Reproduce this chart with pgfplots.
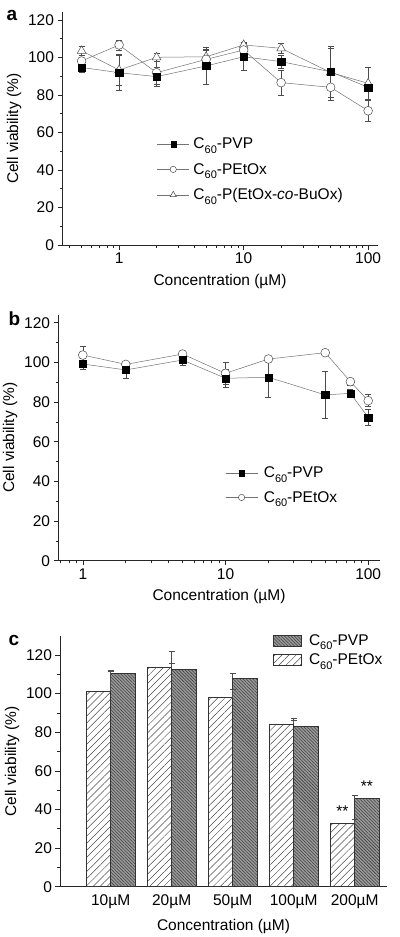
\documentclass[border=0pt]{standalone}
\usepackage{fontspec}
\setmainfont{Liberation Sans}
\usepackage{pgfplots}
\usepackage{pgfplotstable}
\pgfplotsset{compat=1.18}
\usetikzlibrary{patterns.meta}
\newcommand\fs{\fontsize{15.5bp}{18bp}\selectfont}
\newcommand\sub[1]{\raisebox{-0.28em}{\fontsize{11bp}{11bp}\selectfont #1}}
\newcommand\Cs{C\sub{60}}

\pgfplotstableread{
x y e
0.5 94.7 2.8
1 91.9 9.6
2 89.8 5
5 95.5 10
10 100.4 7
20 97.8 3.5
50 92.4 13.4
100 84.1 10.7
}\aPVP
\pgfplotstableread{
x y e
0.5 98.1 1.5
1 106.7 2.7
2 91.9 6
5 99 5
10 104 4
20 86.6 6.6
50 84.1 6.8
100 71.6 5.5
}\aPEtOx
\pgfplotstableread{
x y e
0.5 103.6 2.3
1 93.3 8
2 100.1 2
5 100.4 4
10 106.7 1.5
20 104.9 2.7
50 92 13
100 86.2 8.5
}\aPEB
\pgfplotstableread{
x y e
1 99.2 2.7
2 96.2 4.2
5 101.2 2.7
10 92 4.3
20 92.5 10
50 83.6 11.8
75 84.4 2
100 72.3 4
}\bPVP
\pgfplotstableread{
x y e
1 103.7 4.6
2 99.0 1.5
5 104.2 1.2
10 94.5 5.4
20 101.7 1.2
50 104.9 1.5
75 90.3 1.8
100 80.7 3
}\bPEtOx
\pgfplotstableread{
x y e
0 110.5 1.4
1 112.7 9.2
2 107.9 2.6
3 82.9 3.4
4 45.6 1.9
}\cPVP
\pgfplotstableread{
x y e
0 101.2 10.5
1 113.4 2.3
2 97.9 4.6
3 84.3 2.7
4 32.8 2.3
}\cPEtOx

\pgfplotsset{
  common/.style={
    scale only axis,
    axis x line=bottom, axis y line=left,
    axis line style={-, black!85, line width=0.8bp},
    tick align=outside,
    major tick length=4.5bp, minor tick length=2.5bp,
    every tick/.style={black!85, line width=0.6bp},
    ymin=0, ytick={0,20,...,120}, minor ytick={10,30,...,110},
    /pgf/number format/assume math mode=true,
    tick label style={font=\fs},
    label style={font=\fs},
    ylabel={Cell viability (\%)},
    xlabel={Concentration (µM)},
    xlabel style={yshift=-3bp},
    error bars/error bar style={black!70, line width=0.5bp},
    error bars/error mark options={rotate=90, black!70, mark size=3bp, line width=0.5bp},
    legend cell align=left,
  },
  lineleg/.style={
    legend image code/.code={\draw[mark repeat=2,mark phase=2,##1, every mark/.append style={scale=0.72}] plot coordinates {(0bp,0bp) (16bp,0bp) (32bp,0bp)};},
  },
  sPVP/.style={color=black!55, line width=0.5bp, mark=square*, mark size=3.6bp, mark options={solid, fill=black, draw=black, line width=0.3bp}},
  sPEtOx/.style={color=black!55, line width=0.5bp, mark=*, mark size=4.4bp, mark options={solid, fill=white, draw=black!70, line width=0.5bp}},
  sPEB/.style={color=black!55, line width=0.5bp, mark=triangle*, mark size=5bp, mark options={solid, fill=white, draw=black!70, line width=0.5bp}},
}

\begin{document}
\begin{tikzpicture}
\path[use as bounding box] (0,0) rectangle (400bp,-937bp);

% panel a
\begin{axis}[common, lineleg,
  at={(62bp,-245bp)}, anchor=south west, width=316bp, height=232.5bp,
  xmode=log, xmin=0.348, xmax=120, ymax=124,
  xtick={1,10,100}, xticklabels={1,10,100},
  minor xtick={0.4,0.5,0.6,0.7,0.8,0.9,2,3,4,5,6,7,8,9,20,30,40,50,60,70,80,90},
  legend style={at={(rel axis cs:0.30,0.47)}, anchor=north west, draw=none, fill=none, font=\fs, inner sep=0pt, row sep=9bp,
    nodes={inner xsep=4bp}},
]
\addplot[sPEB, forget plot, error bars/.cd, y dir=both, y explicit] table[x=x, y=y, y error=e] {\aPEB};
\addplot[sPEtOx, forget plot, error bars/.cd, y dir=both, y explicit] table[x=x, y=y, y error=e] {\aPEtOx};
\addplot[sPVP, forget plot, error bars/.cd, y dir=both, y explicit] table[x=x, y=y, y error=e] {\aPVP};
\addlegendimage{sPVP}\addlegendentry{\Cs-PVP}
\addlegendimage{sPEtOx}\addlegendentry{\Cs-PEtOx}
\addlegendimage{sPEB}\addlegendentry{\Cs-P(EtOx-\textit{co}-BuOx)}
\end{axis}

% panel b
\begin{axis}[common, lineleg,
  at={(58bp,-560.7bp)}, anchor=south west, width=322bp, height=245.9bp,
  xmode=log, xmin=0.67, xmax=121, ymax=124,
  xtick={1,10,100}, xticklabels={1,10,100},
  minor xtick={0.7,0.8,0.9,2,3,4,5,6,7,8,9,20,30,40,50,60,70,80,90},
  legend style={at={(rel axis cs:0.519,0.39)}, anchor=north west, draw=none, fill=none, font=\fs, inner sep=0pt, row sep=8bp,
    nodes={inner xsep=6bp}},
]
\addplot[sPEtOx, forget plot, error bars/.cd, y dir=both, y explicit] table[x=x, y=y, y error=e] {\bPEtOx};
\addplot[sPVP, forget plot, error bars/.cd, y dir=both, y explicit] table[x=x, y=y, y error=e] {\bPVP};
\addlegendimage{sPVP}\addlegendentry{\Cs-PVP}
\addlegendimage{sPEtOx}\addlegendentry{\Cs-PEtOx}
\end{axis}

% panel c
\begin{axis}[common,
  at={(60bp,-886.7bp)}, anchor=south west, width=327bp, height=251bp,
  xmin=-0.83, xmax=4.53, ymax=130, clip=false,
  xtick={0,1,2,3,4}, xticklabels={10µM,20µM,50µM,100µM,200µM},
  x tick style={draw=none},
  xlabel style={yshift=-1bp},
  legend image code/.code={\draw[#1] (0bp,-5.5bp) rectangle (28bp,5.5bp);},
  legend style={at={(rel axis cs:0.652,1.013)}, anchor=north west, draw=none, fill=none, font=\fs, inner sep=0pt, row sep=3bp,
    nodes={inner xsep=7bp}},
]
\addplot[ybar, bar width=24.5bp, bar shift=12.25bp, draw=black!80, line width=0.6bp, fill=black!40,
  postaction={pattern={Lines[angle=-45, distance=2.3bp, line width=0.55bp]}, pattern color=black!75},
  error bars/.cd, y dir=plus, y explicit] table[x=x, y=y, y error=e] {\cPVP};
\addlegendentry{\Cs-PVP}
\addplot[ybar, bar width=24.5bp, bar shift=-12.25bp, draw=black!80, line width=0.6bp, fill=white,
  postaction={pattern={Lines[angle=45, distance=5bp, line width=0.5bp]}, pattern color=black!70},
  error bars/.cd, y dir=plus, y explicit] table[x=x, y=y, y error=e] {\cPEtOx};
\addlegendentry{\Cs-PEtOx}
\node[font=\fs, anchor=base, xshift=-12.25bp] at (axis cs:4,36.4) {**};
\node[font=\fs, anchor=base, xshift=12.25bp] at (axis cs:4,49.5) {**};
\end{axis}

\node[font=\fontsize{19bp}{20bp}\selectfont\bfseries, anchor=base west] at (3bp,-20bp) {a};
\node[font=\fontsize{19bp}{20bp}\selectfont\bfseries, anchor=base west] at (5bp,-325bp) {b};
\node[font=\fontsize{19bp}{20bp}\selectfont\bfseries, anchor=base west] at (5bp,-645bp) {c};
\end{tikzpicture}
\end{document}
